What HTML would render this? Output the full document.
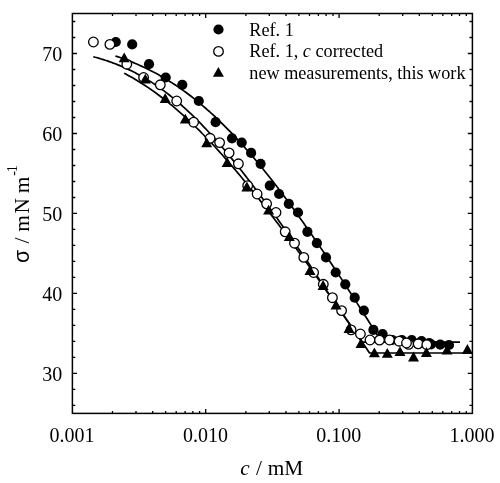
<!DOCTYPE html>
<html><head><meta charset="utf-8"><title>Surface tension vs concentration</title>
<style>html,body{margin:0;padding:0;background:#fff}body{width:500px;height:483px;position:relative;overflow:hidden;font-family:"Liberation Serif",serif}</style>
</head><body>
<svg width="500" height="483" viewBox="0 0 500 483" style="position:absolute;left:0;top:0;will-change:transform">
<g fill="none" stroke="#000" stroke-width="1.7" stroke-linejoin="round">
<path d="M93.3 56.7 L95.3 57.3 L97.3 57.8 L99.3 58.4 L101.3 59.0 L103.3 59.6 L105.3 60.3 L107.3 60.9 L109.3 61.6 L111.3 62.3 L113.3 63.1 L115.3 63.8 L117.3 64.6 L119.3 65.4 L121.3 66.3 L123.3 67.1 L125.3 68.0 L127.3 68.9 L129.3 69.9 L131.3 70.8 L133.3 71.8 L135.3 72.8 L137.3 73.9 L139.3 75.0 L141.3 76.1 L143.3 77.2 L145.3 78.4 L147.3 79.6 L149.3 80.9 L151.3 82.1 L153.3 83.4 L155.3 84.8 L157.3 86.1 L159.3 87.5 L161.3 89.0 L163.3 90.4 L165.3 91.9 L167.3 93.4 L169.3 95.0 L171.3 96.6 L173.3 98.2 L175.3 99.9 L177.3 101.5 L179.3 103.3 L181.3 105.0 L183.3 106.8 L185.3 108.6 L187.3 110.5 L189.3 112.3 L191.3 114.2 L193.3 116.2 L195.3 118.1 L197.3 120.1 L199.3 122.2 L201.3 124.2 L203.3 126.3 L205.3 128.4 L207.3 130.5 L209.3 132.7 L211.3 134.9 L213.3 137.1 L215.3 139.3 L217.3 141.6 L219.3 143.9 L221.3 146.2 L223.3 148.5 L225.3 150.9 L227.3 153.3 L229.3 155.7 L231.3 158.1 L233.3 160.6 L235.3 163.0 L237.3 165.5 L239.3 168.0 L241.3 170.5 L243.3 173.1 L245.3 175.6 L247.3 178.2 L249.3 180.8 L251.3 183.4 L253.3 186.0 L255.3 188.7 L257.3 191.3 L259.3 194.0 L261.3 196.7 L263.3 199.4 L265.3 202.1 L267.3 204.8 L269.3 207.5 L271.3 210.3 L273.3 213.0 L275.3 215.8 L277.3 218.6 L279.3 221.4 L281.3 224.2 L283.3 227.0 L285.3 229.8 L287.3 232.6 L289.3 235.4 L291.3 238.3 L293.3 241.1 L295.3 244.0 L297.3 246.9 L299.3 249.7 L301.3 252.6 L303.3 255.5 L305.3 258.4 L307.3 261.3 L309.3 264.2 L311.2 267.1 L313.1 270.0 L315.0 272.9 L316.9 275.8 L318.8 278.8 L320.7 281.7 L322.6 284.6 L324.6 287.6 L326.5 290.5 L328.5 293.5 L330.5 296.4 L332.5 299.4 L334.6 302.3 L336.6 305.3 L338.7 308.3 L340.8 311.2 L342.8 314.2 L344.9 317.2 L346.9 320.2 L349.0 323.1 L351.1 326.1 L353.1 329.1 L355.2 332.1 L357.2 335.1 L359.3 338.1 L361.4 341.1 L362.1 342.2 L437.7 342.2"/>
<path d="M115.4 56.0 L117.4 56.6 L119.4 57.3 L121.4 58.0 L123.4 58.7 L125.4 59.5 L127.4 60.2 L129.4 61.0 L131.4 61.8 L133.4 62.6 L135.4 63.5 L137.4 64.3 L139.4 65.2 L141.4 66.1 L143.4 67.0 L145.4 68.0 L147.4 68.9 L149.4 69.9 L151.4 70.9 L153.4 72.0 L155.4 73.0 L157.4 74.1 L159.4 75.2 L161.4 76.4 L163.4 77.5 L165.4 78.7 L167.4 79.9 L169.4 81.2 L171.4 82.4 L173.4 83.7 L175.4 85.0 L177.4 86.4 L179.4 87.7 L181.4 89.1 L183.4 90.6 L185.4 92.0 L187.4 93.5 L189.4 95.0 L191.4 96.5 L193.4 98.1 L195.4 99.7 L197.4 101.3 L199.4 102.9 L201.4 104.6 L203.4 106.3 L205.4 108.0 L207.4 109.8 L209.4 111.5 L211.4 113.4 L213.4 115.2 L215.4 117.0 L217.4 118.9 L219.4 120.9 L221.4 122.8 L223.4 124.8 L225.4 126.8 L227.4 128.8 L229.4 130.8 L231.4 132.9 L233.4 135.0 L235.4 137.2 L237.4 139.3 L239.4 141.5 L241.4 143.7 L243.4 145.9 L245.4 148.2 L247.4 150.5 L249.4 152.8 L251.4 155.1 L253.4 157.4 L255.4 159.8 L257.4 162.2 L259.4 164.6 L261.4 167.1 L263.4 169.5 L265.4 172.0 L267.4 174.5 L269.4 177.0 L271.4 179.6 L273.4 182.1 L275.4 184.7 L277.4 187.3 L279.4 190.0 L281.4 192.6 L283.4 195.3 L285.4 197.9 L287.4 200.6 L289.4 203.4 L291.4 206.1 L293.4 208.8 L295.4 211.6 L297.4 214.4 L299.4 217.2 L301.4 220.0 L303.4 222.8 L305.4 225.7 L307.4 228.5 L309.4 231.4 L311.4 234.3 L313.4 237.2 L315.4 240.1 L317.4 243.0 L319.4 245.9 L321.4 248.9 L323.4 251.8 L325.4 254.8 L327.4 257.8 L329.4 260.8 L331.4 263.8 L333.4 266.8 L335.4 269.8 L337.4 272.8 L339.4 275.9 L341.4 278.9 L343.4 282.0 L345.4 285.1 L347.4 288.1 L349.4 291.2 L351.4 294.3 L353.4 297.4 L355.4 300.5 L357.4 303.6 L359.4 306.8 L361.4 309.9 L363.4 313.0 L365.4 316.2 L367.4 319.3 L369.4 322.5 L371.4 325.6 L373.4 328.8 L375.4 332.0 L377.4 335.2 L379.4 338.4 L381.4 341.5 L381.8 342.2 L460.0 342.2"/>
<path d="M124.2 73.2 L126.2 74.3 L128.2 75.4 L130.2 76.5 L132.2 77.6 L134.2 78.8 L136.2 80.0 L138.2 81.2 L140.2 82.4 L142.2 83.7 L144.2 85.0 L146.2 86.3 L148.2 87.6 L150.2 89.0 L152.2 90.4 L154.2 91.8 L156.2 93.2 L158.2 94.7 L160.2 96.2 L162.2 97.7 L164.2 99.3 L166.2 100.8 L168.2 102.4 L170.2 104.1 L172.2 105.7 L174.2 107.4 L176.2 109.1 L178.2 110.8 L180.2 112.6 L182.2 114.3 L184.2 116.1 L186.2 118.0 L188.2 119.8 L190.2 121.7 L192.2 123.6 L194.2 125.5 L196.2 127.5 L198.2 129.4 L200.2 131.4 L202.2 133.5 L204.2 135.5 L206.2 137.6 L208.2 139.6 L210.2 141.8 L212.2 143.9 L214.2 146.0 L216.2 148.2 L218.2 150.4 L220.2 152.6 L222.2 154.8 L224.2 157.1 L226.2 159.4 L228.2 161.7 L230.2 164.0 L232.2 166.3 L234.2 168.6 L236.2 171.0 L238.2 173.4 L240.2 175.8 L242.2 178.2 L244.2 180.6 L246.2 183.1 L248.2 185.5 L250.2 188.0 L252.2 190.5 L254.2 193.0 L256.2 195.5 L258.2 198.1 L260.2 200.6 L262.2 203.2 L264.2 205.8 L266.2 208.3 L268.2 210.9 L270.2 213.6 L272.2 216.2 L274.2 218.8 L276.2 221.5 L278.2 224.1 L280.2 226.8 L282.2 229.5 L284.2 232.1 L286.2 234.8 L288.2 237.5 L290.2 240.3 L292.2 243.0 L294.2 245.7 L296.2 248.5 L298.2 251.2 L300.2 254.0 L302.2 256.7 L304.2 259.5 L306.2 262.3 L308.2 265.1 L310.2 267.9 L312.2 270.7 L314.2 273.5 L316.2 276.3 L318.2 279.1 L320.2 281.9 L322.2 284.7 L324.2 287.6 L326.2 290.4 L328.2 293.3 L330.2 296.1 L332.2 299.0 L334.2 301.8 L336.2 304.7 L338.2 307.6 L340.2 310.4 L342.2 313.3 L344.2 316.2 L346.2 319.1 L348.2 322.0 L350.2 324.9 L352.2 327.8 L354.2 330.7 L356.2 333.6 L358.2 336.5 L360.2 339.4 L362.2 342.3 L364.2 345.2 L366.2 348.1 L368.2 351.0 L369.5 353.0 L472.4 353.0"/>
</g>
<path d="M72.4 405.4h2.9M472.4 405.4h-2.9M72.4 389.4h2.9M472.4 389.4h-2.9M72.4 373.4h4.6M472.4 373.4h-4.6M72.4 357.4h2.9M472.4 357.4h-2.9M72.4 341.4h2.9M472.4 341.4h-2.9M72.4 325.4h2.9M472.4 325.4h-2.9M72.4 309.4h2.9M472.4 309.4h-2.9M72.4 293.4h4.6M472.4 293.4h-4.6M72.4 277.4h2.9M472.4 277.4h-2.9M72.4 261.4h2.9M472.4 261.4h-2.9M72.4 245.4h2.9M472.4 245.4h-2.9M72.4 229.4h2.9M472.4 229.4h-2.9M72.4 213.4h4.6M472.4 213.4h-4.6M72.4 197.5h2.9M472.4 197.5h-2.9M72.4 181.5h2.9M472.4 181.5h-2.9M72.4 165.5h2.9M472.4 165.5h-2.9M72.4 149.5h2.9M472.4 149.5h-2.9M72.4 133.5h4.6M472.4 133.5h-4.6M72.4 117.5h2.9M472.4 117.5h-2.9M72.4 101.5h2.9M472.4 101.5h-2.9M72.4 85.5h2.9M472.4 85.5h-2.9M72.4 69.5h2.9M472.4 69.5h-2.9M72.4 53.5h4.6M472.4 53.5h-4.6M72.4 37.5h2.9M472.4 37.5h-2.9M72.4 21.5h2.9M472.4 21.5h-2.9M112.5 413.4v-2.5M112.5 13.5v2.5M136.0 413.4v-2.5M136.0 13.5v2.5M152.7 413.4v-2.5M152.7 13.5v2.5M165.6 413.4v-2.5M165.6 13.5v2.5M176.2 413.4v-2.5M176.2 13.5v2.5M185.1 413.4v-2.5M185.1 13.5v2.5M192.8 413.4v-2.5M192.8 13.5v2.5M199.6 413.4v-2.5M199.6 13.5v2.5M205.7 413.4v-4.5M205.7 13.5v4.5M245.9 413.4v-2.5M245.9 13.5v2.5M269.3 413.4v-2.5M269.3 13.5v2.5M286.0 413.4v-2.5M286.0 13.5v2.5M298.9 413.4v-2.5M298.9 13.5v2.5M309.5 413.4v-2.5M309.5 13.5v2.5M318.4 413.4v-2.5M318.4 13.5v2.5M326.1 413.4v-2.5M326.1 13.5v2.5M333.0 413.4v-2.5M333.0 13.5v2.5M339.1 413.4v-4.5M339.1 13.5v4.5M379.2 413.4v-2.5M379.2 13.5v2.5M402.7 413.4v-2.5M402.7 13.5v2.5M419.3 413.4v-2.5M419.3 13.5v2.5M432.3 413.4v-2.5M432.3 13.5v2.5M442.8 413.4v-2.5M442.8 13.5v2.5M451.7 413.4v-2.5M451.7 13.5v2.5M459.5 413.4v-2.5M459.5 13.5v2.5M466.3 413.4v-2.5M466.3 13.5v2.5" fill="none" stroke="#000" stroke-width="1.3"/>
<rect x="72.4" y="13.5" width="400.0" height="399.9" fill="none" stroke="#000" stroke-width="1.5"/>
<g fill="#000">
<circle cx="115.8" cy="42.0" r="5.1"/>
<circle cx="132.2" cy="44.4" r="5.1"/>
<circle cx="149.0" cy="64.2" r="5.1"/>
<circle cx="165.7" cy="77.5" r="5.1"/>
<circle cx="182.3" cy="84.8" r="5.1"/>
<circle cx="198.8" cy="101.0" r="5.1"/>
<circle cx="215.6" cy="122.2" r="5.1"/>
<circle cx="232.0" cy="138.3" r="5.1"/>
<circle cx="241.7" cy="142.6" r="5.1"/>
<circle cx="251.1" cy="152.9" r="5.1"/>
<circle cx="260.6" cy="163.8" r="5.1"/>
<circle cx="269.8" cy="185.7" r="5.1"/>
<circle cx="279.1" cy="194.0" r="5.1"/>
<circle cx="288.8" cy="203.8" r="5.1"/>
<circle cx="298.0" cy="212.5" r="5.1"/>
<circle cx="307.4" cy="231.8" r="5.1"/>
<circle cx="316.9" cy="243.2" r="5.1"/>
<circle cx="326.0" cy="257.4" r="5.1"/>
<circle cx="335.7" cy="272.5" r="5.1"/>
<circle cx="345.3" cy="284.3" r="5.1"/>
<circle cx="354.7" cy="297.7" r="5.1"/>
<circle cx="363.9" cy="310.6" r="5.1"/>
<circle cx="373.4" cy="329.9" r="5.1"/>
<circle cx="382.6" cy="334.0" r="5.1"/>
<circle cx="392.3" cy="340.0" r="5.1"/>
<circle cx="401.9" cy="340.1" r="5.1"/>
<circle cx="411.7" cy="340.0" r="5.1"/>
<circle cx="421.5" cy="341.2" r="5.1"/>
<circle cx="431.0" cy="344.3" r="5.1"/>
<circle cx="429.2" cy="343.0" r="5.1"/>
<circle cx="440.2" cy="344.6" r="5.1"/>
<circle cx="449.0" cy="345.0" r="5.1"/>
</g>
<g fill="#fff" stroke="#000" stroke-width="1.3">
<circle cx="93.4" cy="42.0" r="4.8"/>
<circle cx="109.9" cy="44.4" r="4.8"/>
<circle cx="126.8" cy="64.2" r="4.8"/>
<circle cx="143.6" cy="77.5" r="4.8"/>
<circle cx="160.3" cy="84.8" r="4.8"/>
<circle cx="176.7" cy="101.0" r="4.8"/>
<circle cx="193.6" cy="122.2" r="4.8"/>
<circle cx="210.1" cy="138.3" r="4.8"/>
<circle cx="219.6" cy="142.6" r="4.8"/>
<circle cx="229.1" cy="152.9" r="4.8"/>
<circle cx="238.4" cy="163.8" r="4.8"/>
<circle cx="247.7" cy="185.7" r="4.8"/>
<circle cx="257.1" cy="194.0" r="4.8"/>
<circle cx="266.6" cy="203.8" r="4.8"/>
<circle cx="276.0" cy="212.5" r="4.8"/>
<circle cx="285.2" cy="231.8" r="4.8"/>
<circle cx="294.5" cy="243.2" r="4.8"/>
<circle cx="303.8" cy="257.4" r="4.8"/>
<circle cx="313.6" cy="272.5" r="4.8"/>
<circle cx="323.3" cy="284.3" r="4.8"/>
<circle cx="332.4" cy="297.7" r="4.8"/>
<circle cx="341.6" cy="310.6" r="4.8"/>
<circle cx="351.1" cy="329.9" r="4.8"/>
<circle cx="360.4" cy="334.0" r="4.8"/>
<circle cx="370.0" cy="340.0" r="4.8"/>
<circle cx="379.5" cy="340.1" r="4.8"/>
<circle cx="389.5" cy="340.0" r="4.8"/>
<circle cx="399.1" cy="341.2" r="4.8"/>
<circle cx="408.7" cy="344.3" r="4.8"/>
<circle cx="406.5" cy="343.0" r="4.8"/>
<circle cx="418.2" cy="343.8" r="4.8"/>
<circle cx="426.8" cy="344.7" r="4.8"/>
</g>
<path d="M124.2 52.5L129.7 62.3L118.7 62.3ZM145.3 73.8L150.8 83.6L139.8 83.6ZM165.2 93.1L170.7 102.9L159.7 102.9ZM185.3 113.8L190.8 123.6L179.8 123.6ZM206.7 137.4L212.2 147.2L201.2 147.2ZM227.2 157.1L232.7 166.9L221.7 166.9ZM246.9 181.6L252.4 191.4L241.4 191.4ZM268.6 204.7L274.1 214.5L263.1 214.5ZM289.3 231.2L294.8 241.0L283.8 241.0ZM310.0 265.1L315.5 274.9L304.5 274.9ZM323.1 280.1L328.6 289.9L317.6 289.9ZM336.0 299.6L341.5 309.4L330.5 309.4ZM349.0 323.1L354.5 332.9L343.5 332.9ZM361.0 338.1L366.5 347.9L355.5 347.9ZM374.4 347.4L379.9 357.2L368.9 357.2ZM387.3 347.9L392.8 357.7L381.8 357.7ZM400.0 346.3L405.5 356.1L394.5 356.1ZM413.5 351.6L419.0 361.4L408.0 361.4ZM426.4 347.1L431.9 356.9L420.9 356.9ZM447.0 344.7L452.5 354.5L441.5 354.5ZM467.4 344.1L472.9 353.9L461.9 353.9Z" fill="#000"/>
<circle cx="218.5" cy="29.5" r="5.1" fill="#000"/>
<circle cx="218.5" cy="51.4" r="4.8" fill="#fff" stroke="#000" stroke-width="1.3"/>
<path d="M218.4 67.0L223.9 76.8L212.9 76.8Z" fill="#000"/>
<g font-family="'Liberation Serif', serif" fill="#000">
<g font-size="18.2px">
<text x="249.3" y="35.5">Ref. 1</text>
<text x="249.3" y="57.3">Ref. 1, <tspan font-style="italic">c</tspan> corrected</text>
<text x="249.3" y="79.0">new measurements, this work</text>
</g>
<g font-size="20px" text-anchor="end">
<text x="62.3" y="380.7">30</text>
<text x="62.3" y="300.7">40</text>
<text x="62.3" y="220.8">50</text>
<text x="62.3" y="140.8">60</text>
<text x="62.3" y="60.8">70</text>
</g>
<g font-size="20px" text-anchor="middle">
<text x="72.1" y="441.7">0.001</text>
<text x="205.4" y="441.7">0.010</text>
<text x="338.8" y="441.7">0.100</text>
<text x="472.1" y="441.7">1.000</text>
</g>
<g font-size="21.3px">
<text y="475.3"><tspan x="240.3" font-style="italic">c</tspan><tspan x="256.0">/</tspan><tspan x="267.8">mM</tspan></text>
</g>
<g font-size="21.3px" transform="translate(29.0,0) rotate(-90)"><text x="-262.9" y="0" font-family="'Liberation Sans', sans-serif">σ</text><text x="-243.6" y="0">/</text><text x="-231.8" y="0">m</text><text x="-213.6" y="0">N</text><text x="-193.2" y="0">m</text><text x="-175.8" y="-11.4" font-size="14.3px">-</text><text x="-172.3" y="-12.3" font-size="14.3px">1</text></g>
</g>
</svg>
</body></html>
